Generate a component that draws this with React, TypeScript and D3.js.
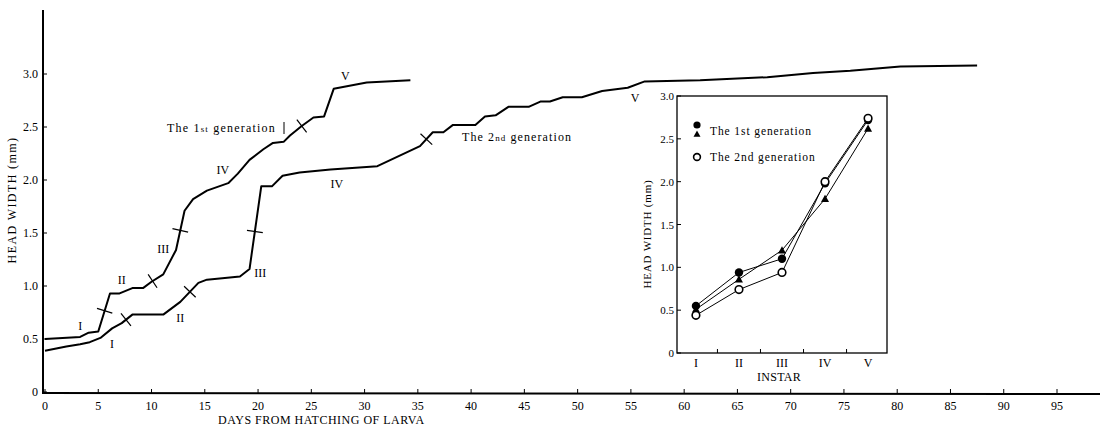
import React from 'react';
import * as d3 from 'd3';

// main chart: head width (mm) against days from hatching
const gen1Days = [0, 3.3, 4.1, 5.0, 6.1, 7.0, 8.2, 9.2, 10.0, 11.1, 12.3, 13.1, 13.9, 15.2, 17.2, 18.1, 19.2, 20.5, 21.4, 22.4, 23.0, 24.1, 25.2, 26.2, 27.1, 30.2, 34.3];
const gen1Width = [0.5, 0.52, 0.56, 0.57, 0.93, 0.93, 0.98, 0.98, 1.04, 1.11, 1.34, 1.71, 1.82, 1.9, 1.97, 2.06, 2.19, 2.29, 2.35, 2.36, 2.42, 2.51, 2.59, 2.6, 2.86, 2.92, 2.94];

const gen2Days = [0, 2.0, 3.3, 4.2, 5.2, 6.3, 7.2, 8.2, 11.1, 12.7, 14.4, 15.2, 16.4, 18.3, 19.2, 20.3, 21.3, 22.3, 23.9, 26.8, 31.2, 35.2, 36.4, 37.4, 38.3, 40.4, 41.3, 42.3, 43.5, 45.4, 46.5, 47.4, 48.6, 50.4, 52.3, 54.7, 56.3, 61.5, 67.8, 72.1, 75.6, 80.3, 87.5];
const gen2Width = [0.39, 0.43, 0.45, 0.47, 0.51, 0.6, 0.65, 0.73, 0.73, 0.85, 1.03, 1.06, 1.07, 1.09, 1.16, 1.94, 1.94, 2.04, 2.07, 2.1, 2.13, 2.32, 2.45, 2.45, 2.52, 2.52, 2.6, 2.61, 2.69, 2.69, 2.74, 2.74, 2.78, 2.78, 2.84, 2.87, 2.93, 2.94, 2.97, 3.01, 3.03, 3.07, 3.08];

// moult days (cross marks)
const gen1Moults = [5.6, 10.1, 12.7, 24.1];
const gen2Moults = [7.6, 13.6, 19.7, 35.8];

const instars = ['I', 'II', 'III', 'IV', 'V'];
// instar labels along the curves: [day, width]
const gen1InstarAt = [[3.3, 0.62], [7.2, 1.06], [11.1, 1.35], [16.7, 2.09], [28.2, 2.98]];
const gen2InstarAt = [[6.3, 0.45], [12.7, 0.7], [20.2, 1.12], [27.4, 1.96], [55.4, 2.77]];

const dayTicks = d3.range(0, 100, 5);
const widthTicks = [0, 0.5, 1.0, 1.5, 2.0, 2.5, 3.0];

// inset: mean head width per instar
const gen1Dot = [0.55, 0.94, 1.1, 1.98, 2.72];
const gen1Tri = [0.51, 0.86, 1.2, 1.8, 2.62];
const gen2Dot = [0.44, 0.74, 0.94, 2.0, 2.74];

const FONT = '"Liberation Serif", "DejaVu Serif", serif';

const interp = (days: number[], vals: number[], d: number) => d3.scaleLinear().domain(days).range(vals)(d);

export default function App() {
  const x = d3.scaleLinear().domain([0, 95]).range([45, 1057]);
  const y = d3.scaleLinear().domain([0, 3]).range([392, 74]);

  const line = d3.line<[number, number]>().x(d => x(d[0])).y(d => y(d[1]));
  const gen1 = gen1Days.map((d, i) => [d, gen1Width[i]] as [number, number]);
  const gen2 = gen2Days.map((d, i) => [d, gen2Width[i]] as [number, number]);

  const cross = (days: number[], vals: number[], d: number, key: string) => {
    const v = interp(days, vals, d);
    const a = [x(d - 0.3), y(interp(days, vals, d - 0.3))];
    const b = [x(d + 0.3), y(interp(days, vals, d + 0.3))];
    const dx = b[0] - a[0], dy = b[1] - a[1];
    const len = Math.hypot(dx, dy) || 1;
    const nx = -dy / len * 8, ny = dx / len * 8;
    const cx = x(d), cy = y(v);
    return <line key={key} x1={cx - nx} y1={cy - ny} x2={cx + nx} y2={cy + ny} stroke="#000" strokeWidth={1.2} />;
  };

  // inset scales
  const xi = d3.scalePoint<string>().domain(instars).range([677, 887]).padding(0.44);
  const yi = d3.scaleLinear().domain([0, 3]).range([353, 96]);
  const insetLine = d3.line<number>().x((_, i) => xi(instars[i]) as number).y(v => yi(v));
  const step = xi.step();

  const tri = (cx: number, cy: number, s: number) => `M${cx},${cy - s}L${cx + s},${cy + s * 0.8}L${cx - s},${cy + s * 0.8}Z`;

  return (
    <svg width={1106} height={427} style={{ position: 'absolute', left: 0, top: 0, background: '#fff' }} fontFamily={FONT}>
      {/* main axes */}
      <line x1={43} y1={10} x2={43} y2={394} stroke="#000" strokeWidth={2} />
      <line x1={42} y1={393} x2={1100} y2={394} stroke="#000" strokeWidth={2} />
      {widthTicks.map(t => (
        <g key={'yt' + t}>
          <line x1={43} x2={47} y1={y(t)} y2={y(t)} stroke="#000" strokeWidth={1} />
          <text x={38} y={y(t) + 4} fontSize={12} textAnchor="end">{t === 0 ? '0' : t.toFixed(1)}</text>
        </g>
      ))}
      {dayTicks.map(t => (
        <g key={'xt' + t}>
          <line x1={x(t)} x2={x(t)} y1={393} y2={389} stroke="#000" strokeWidth={1} />
          <text x={x(t)} y={410} fontSize={12} textAnchor="middle">{t}</text>
        </g>
      ))}
      <text x={218} y={424} fontSize={12} letterSpacing={0.5}>DAYS FROM HATCHING OF LARVA</text>
      <text transform="translate(16,200) rotate(-90)" fontSize={12} letterSpacing={1.4} textAnchor="middle">HEAD WIDTH (mm)</text>

      {/* growth curves */}
      <path d={line(gen1) || ''} fill="none" stroke="#000" strokeWidth={2} strokeLinejoin="round" />
      <path d={line(gen2) || ''} fill="none" stroke="#000" strokeWidth={2} strokeLinejoin="round" />
      {gen1Moults.map((d, i) => cross(gen1Days, gen1Width, d, 'm1' + i))}
      {gen2Moults.map((d, i) => cross(gen2Days, gen2Width, d, 'm2' + i))}
      {gen1InstarAt.map((p, i) => (
        <text key={'l1' + i} x={x(p[0])} y={y(p[1]) + 4} fontSize={12} textAnchor="middle">{instars[i]}</text>
      ))}
      {gen2InstarAt.map((p, i) => (
        <text key={'l2' + i} x={x(p[0])} y={y(p[1]) + 4} fontSize={12} textAnchor="middle">{instars[i]}</text>
      ))}
      <text x={167} y={132} fontSize={12} letterSpacing={1.2}>
        The 1<tspan fontSize={9}>st</tspan> generation
      </text>
      <line x1={284} x2={284} y1={122} y2={134} stroke="#000" strokeWidth={1} />
      <text x={462} y={141} fontSize={12} letterSpacing={1.1}>
        The 2<tspan fontSize={9}>nd</tspan> generation
      </text>

      {/* inset */}
      <rect x={677} y={96} width={210} height={257} fill="#fff" stroke="#000" strokeWidth={1.3} />
      {widthTicks.map(t => (
        <g key={'iy' + t}>
          <line x1={677} x2={681} y1={yi(t)} y2={yi(t)} stroke="#000" strokeWidth={1} />
          <text x={674} y={yi(t) + 4} fontSize={11} textAnchor="end">{t === 0 ? '0' : t.toFixed(1)}</text>
        </g>
      ))}
      {instars.slice(0, 4).map(c => (
        <line key={'ix' + c} x1={(xi(c) as number) + step / 2} x2={(xi(c) as number) + step / 2} y1={353} y2={349} stroke="#000" strokeWidth={1} />
      ))}
      {instars.map(c => (
        <text key={'il' + c} x={xi(c)} y={367} fontSize={12} textAnchor="middle">{c}</text>
      ))}
      <text x={779} y={381} fontSize={12} letterSpacing={0.3} textAnchor="middle">INSTAR</text>
      <text transform="translate(651,234) rotate(-90)" fontSize={11} letterSpacing={0.8} textAnchor="middle">HEAD WIDTH (mm)</text>

      <path d={insetLine(gen1Dot) || ''} fill="none" stroke="#000" strokeWidth={1} />
      <path d={insetLine(gen1Tri) || ''} fill="none" stroke="#000" strokeWidth={1} />
      <path d={insetLine(gen2Dot) || ''} fill="none" stroke="#000" strokeWidth={1} />
      {gen1Tri.map((v, i) => (
        <path key={'tr' + i} d={tri(xi(instars[i]) as number, yi(v), 4)} fill="#000" />
      ))}
      {gen1Dot.map((v, i) => (
        <circle key={'fd' + i} cx={xi(instars[i])} cy={yi(v)} r={4.2} fill="#000" />
      ))}
      {gen2Dot.map((v, i) => (
        <circle key={'od' + i} cx={xi(instars[i])} cy={yi(v)} r={3.8} fill="#fff" stroke="#000" strokeWidth={1.6} />
      ))}

      {/* inset legend */}
      <circle cx={697} cy={125} r={3.6} fill="#000" />
      <path d={tri(697, 134, 3.5)} fill="#000" />
      <text x={710} y={135} fontSize={11.5} letterSpacing={0.9}>The 1st generation</text>
      <circle cx={697} cy={157} r={3.4} fill="#fff" stroke="#000" strokeWidth={1.6} />
      <text x={710} y={161} fontSize={11.5} letterSpacing={0.9}>The 2nd generation</text>
    </svg>
  );
}
